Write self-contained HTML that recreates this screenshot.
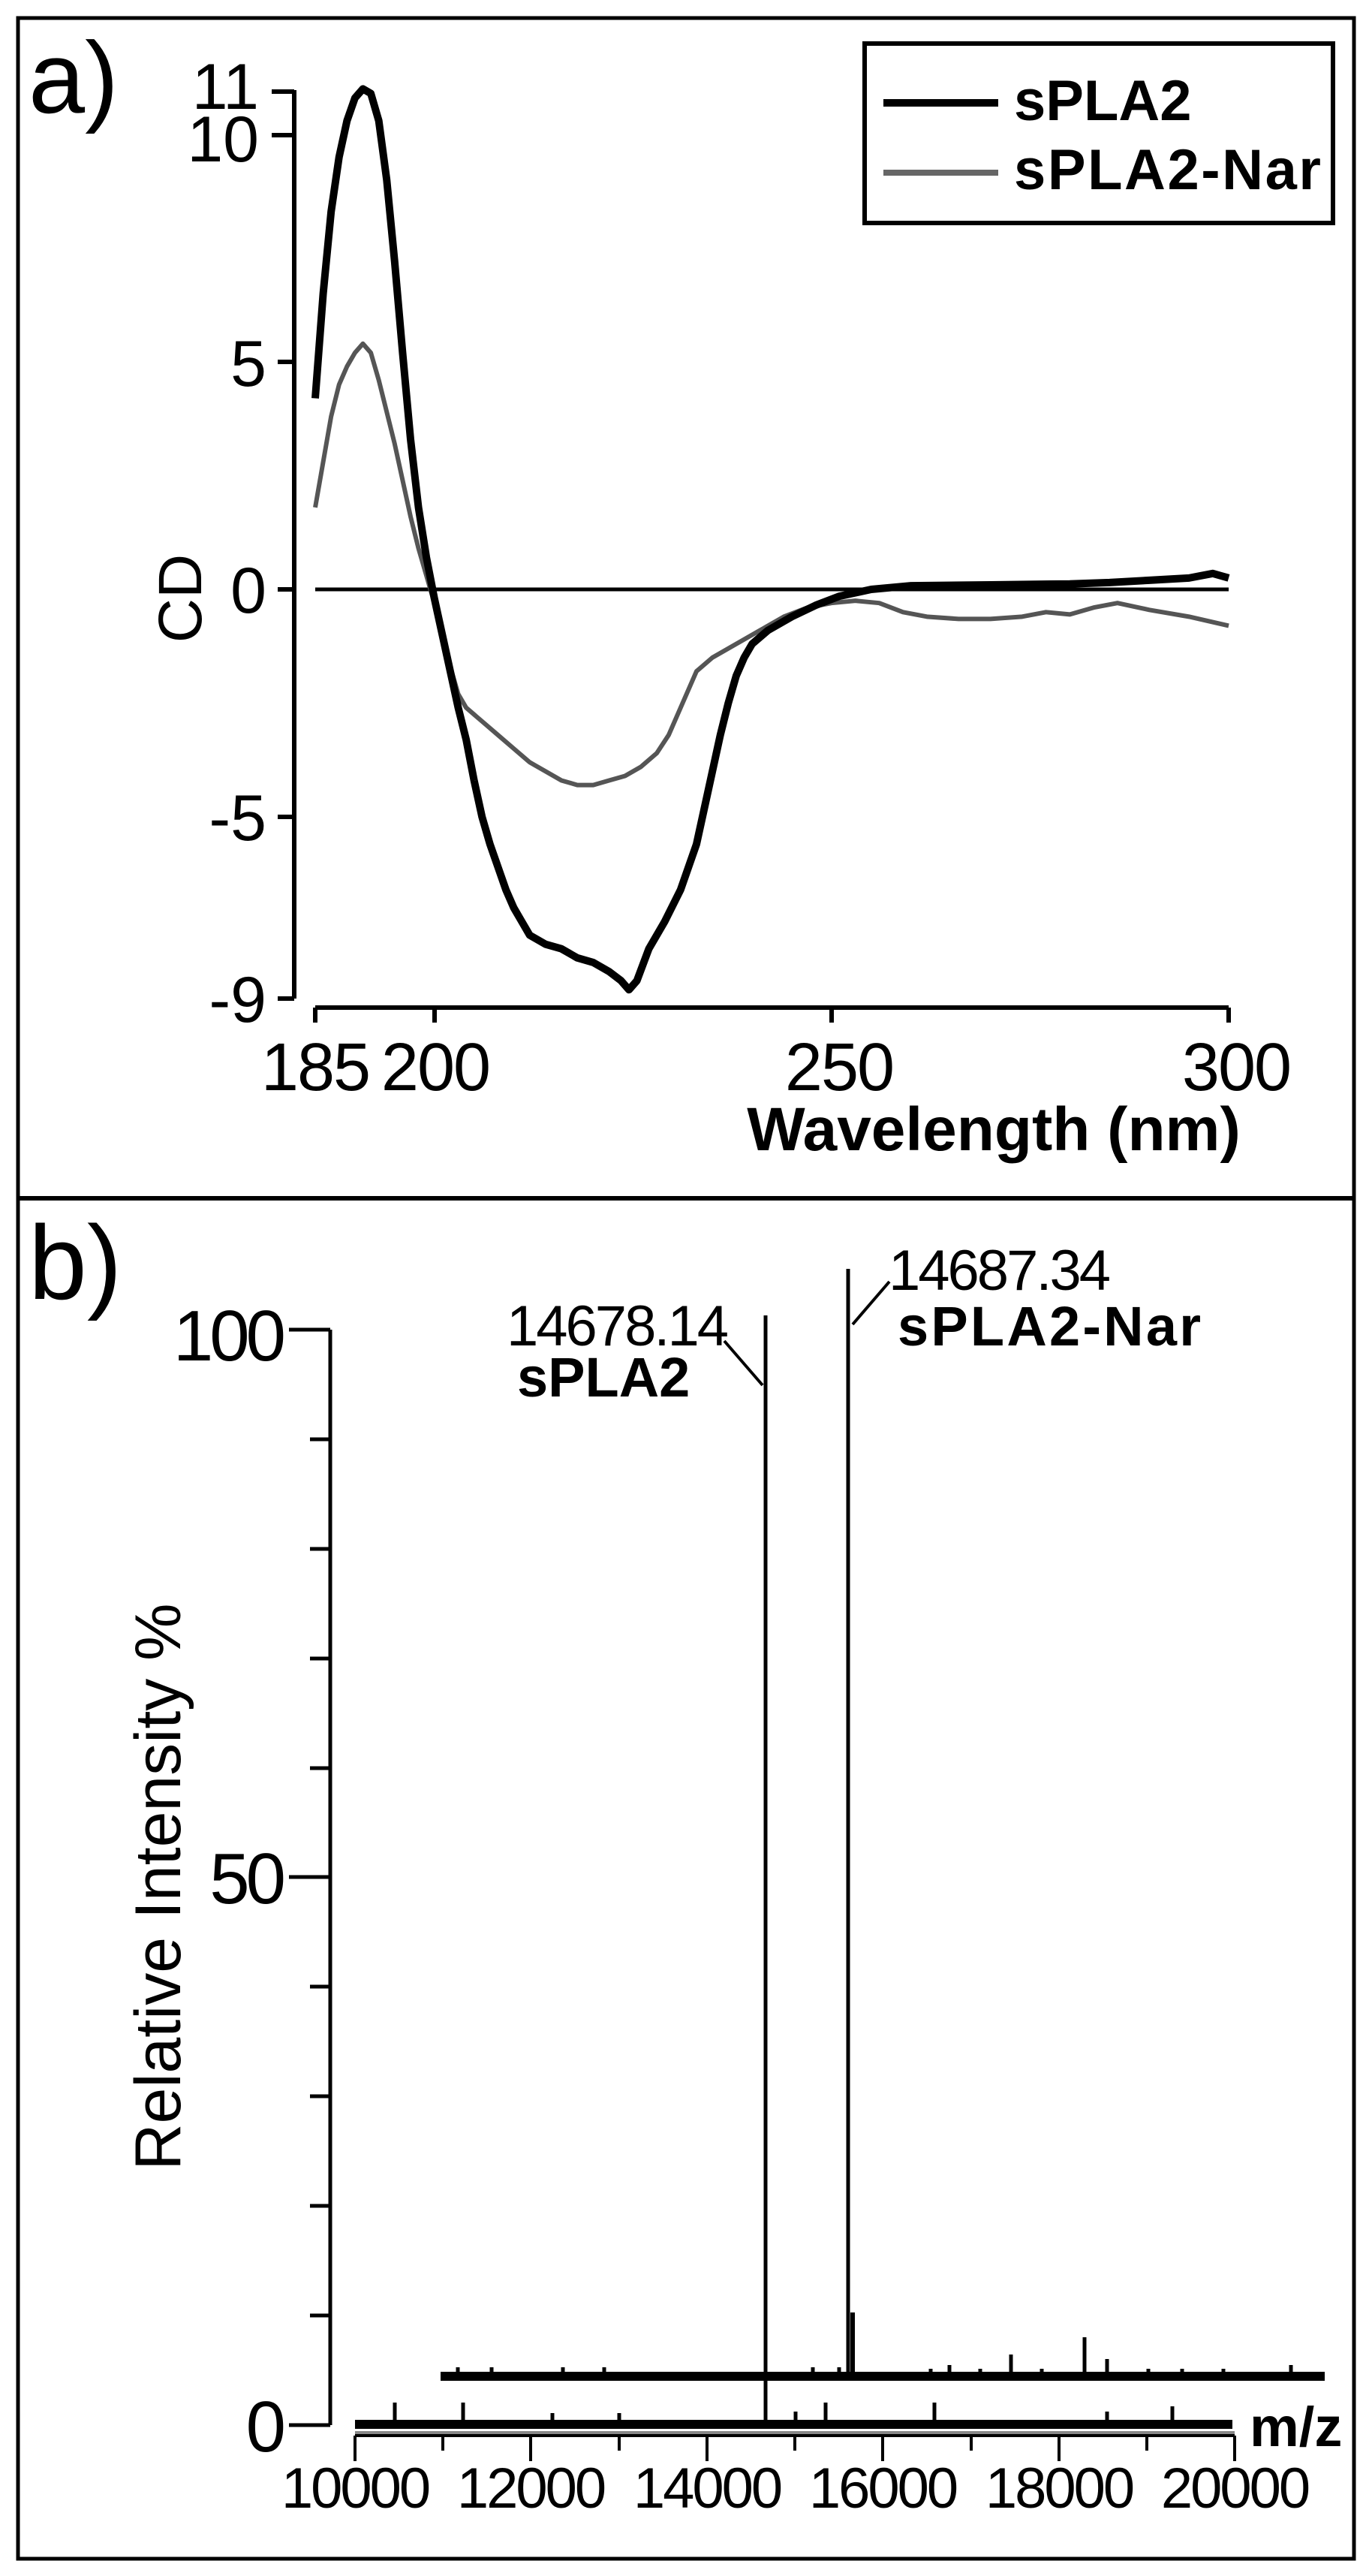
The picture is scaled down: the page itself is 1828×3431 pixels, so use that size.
<!DOCTYPE html>
<html><head><meta charset="utf-8"><style>html,body{margin:0;padding:0;background:#fff}svg{display:block}</style></head>
<body>
<svg width="1828" height="3431" viewBox="0 0 1828 3431" xmlns="http://www.w3.org/2000/svg" font-family="Liberation Sans, sans-serif">
<rect x="0" y="0" width="1828" height="3431" fill="#fff"/>
<rect x="24" y="24" width="1780" height="3384" fill="none" stroke="#000" stroke-width="5"/>
<line x1="24" y1="1596" x2="1804" y2="1596" stroke="#000" stroke-width="6"/>

<!-- ===== Panel a ===== -->
<text x="38" y="150" font-size="135">a)</text>
<line x1="392" y1="120" x2="392" y2="1330" stroke="#000" stroke-width="6"/>
<g stroke="#000" stroke-width="6">
<line x1="362" y1="122" x2="392" y2="122"/>
<line x1="362" y1="180" x2="392" y2="180"/>
<line x1="370" y1="482" x2="392" y2="482"/>
<line x1="370" y1="785" x2="392" y2="785"/>
<line x1="370" y1="1088" x2="392" y2="1088"/>
<line x1="370" y1="1330" x2="392" y2="1330"/>
</g>
<g font-size="86" text-anchor="end">
<text x="345" y="145">11</text>
<text x="345" y="215">10</text>
<text x="355" y="514">5</text>
<text x="355" y="816">0</text>
<text x="355" y="1119">-5</text>
<text x="355" y="1361">-9</text>
</g>
<text transform="translate(268,797) rotate(-90)" font-size="82" text-anchor="middle">CD</text>
<g stroke="#000" stroke-width="6">
<line x1="420" y1="1342" x2="1637" y2="1342"/>
<line x1="420" y1="1342" x2="420" y2="1362"/>
<line x1="579" y1="1342" x2="579" y2="1362"/>
<line x1="1108" y1="1342" x2="1108" y2="1362"/>
<line x1="1637" y1="1342" x2="1637" y2="1362"/>
</g>
<g font-size="90" text-anchor="middle" letter-spacing="-2">
<text x="420" y="1452">185</text>
<text x="580" y="1452">200</text>
<text x="1118" y="1452">250</text>
<text x="1647" y="1452">300</text>
</g>
<text x="1324" y="1532" font-size="82" font-weight="bold" text-anchor="middle">Wavelength (nm)</text>
<line x1="420" y1="785" x2="1637" y2="785" stroke="#000" stroke-width="5"/>
<g transform="translate(420,785) scale(10.583,-60.6) translate(-185,0)" fill="none" stroke-linejoin="round">
<polyline vector-effect="non-scaling-stroke" stroke="#555" stroke-width="6" points="185,1.8 186,2.8 187,3.8 188,4.5 189,4.9 190,5.2 191,5.4 192,5.2 193,4.6 194,3.9 195,3.2 196,2.4 197,1.6 198,0.9 199,0.3 200,-0.3 201,-1 202,-1.7 203,-2.3 204,-2.6 206,-2.9 208,-3.2 210,-3.5 212,-3.8 214,-4 216,-4.2 218,-4.3 220,-4.3 222,-4.2 224,-4.1 226,-3.9 228,-3.6 229.5,-3.2 231,-2.6 232,-2.2 233,-1.8 235,-1.5 237,-1.3 239,-1.1 241,-0.9 244,-0.6 247,-0.4 250,-0.3 253,-0.25 256,-0.3 259,-0.5 262,-0.6 266,-0.65 270,-0.65 274,-0.6 277,-0.5 280,-0.55 283,-0.4 286,-0.3 290,-0.45 295,-0.6 300,-0.8"/>
<polyline vector-effect="non-scaling-stroke" stroke="#000" stroke-width="10" points="185,4.2 186,6.5 187,8.3 188,9.5 189,10.3 190,10.8 191,11 192,10.9 193,10.3 194,9 195,7.2 196,5.2 197,3.3 198,1.8 199,0.7 200,-0.2 201,-1 202,-1.8 203,-2.6 204,-3.3 205,-4.2 206,-5 207,-5.6 208,-6.1 209,-6.6 210,-7 211,-7.3 212,-7.6 214,-7.8 216,-7.9 218,-8.1 220,-8.2 222,-8.4 223.5,-8.6 224.5,-8.8 225.5,-8.6 227,-7.9 229,-7.3 231,-6.6 233,-5.6 234,-4.8 235,-4 236,-3.2 237,-2.5 238,-1.9 239,-1.5 240,-1.2 242,-0.9 245,-0.6 248,-0.35 251,-0.15 255,0 260,0.08 270,0.1 280,0.12 285,0.15 290,0.2 295,0.25 298,0.35 300,0.25"/>
</g>
<rect x="1152" y="58" width="624" height="239" fill="#fff" stroke="#000" stroke-width="6"/>
<line x1="1177" y1="137" x2="1330" y2="137" stroke="#000" stroke-width="10"/>
<line x1="1177" y1="230" x2="1330" y2="230" stroke="#666" stroke-width="8"/>
<g font-size="76" font-weight="bold">
<text x="1351" y="160">sPLA2</text>
<text x="1351" y="252" textLength="409">sPLA2-Nar</text>
</g>

<!-- ===== Panel b ===== -->
<text x="38" y="1730" font-size="140">b)</text>
<line x1="440" y1="1771" x2="440" y2="3230" stroke="#000" stroke-width="5"/>
<g stroke="#000" stroke-width="5">
<line x1="385" y1="1771" x2="440" y2="1771"/>
<line x1="385" y1="2500" x2="440" y2="2500"/>
<line x1="385" y1="3230" x2="440" y2="3230"/>
<line x1="413" y1="1917" x2="440" y2="1917"/>
<line x1="413" y1="2063" x2="440" y2="2063"/>
<line x1="413" y1="2209" x2="440" y2="2209"/>
<line x1="413" y1="2355" x2="440" y2="2355"/>
<line x1="413" y1="2646" x2="440" y2="2646"/>
<line x1="413" y1="2792" x2="440" y2="2792"/>
<line x1="413" y1="2938" x2="440" y2="2938"/>
<line x1="413" y1="3084" x2="440" y2="3084"/>
</g>
<g font-size="96" text-anchor="end" letter-spacing="-5">
<text x="376" y="1812">100</text>
<text x="376" y="2535">50</text>
<text x="376" y="3265">0</text>
</g>
<text transform="translate(240,2513) rotate(-90)" font-size="86" text-anchor="middle">Relative Intensity %</text>

<rect x="473" y="3223" width="1169" height="12" fill="#000"/>
<line x1="473" y1="3240" x2="1645" y2="3240" stroke="#888" stroke-width="4"/>
<line x1="473" y1="3244" x2="1645" y2="3244" stroke="#000" stroke-width="4"/>
<g stroke="#000" stroke-width="5">
<line x1="1020" y1="3230" x2="1020" y2="1752"/>
<line x1="526" y1="3230" x2="526" y2="3200"/>
<line x1="617" y1="3230" x2="617" y2="3200"/>
<line x1="736" y1="3230" x2="736" y2="3214"/>
<line x1="825" y1="3230" x2="825" y2="3214"/>
<line x1="1060" y1="3230" x2="1060" y2="3212"/>
<line x1="1100" y1="3230" x2="1100" y2="3200"/>
<line x1="1245" y1="3230" x2="1245" y2="3200"/>
<line x1="1475" y1="3230" x2="1475" y2="3212"/>
<line x1="1562" y1="3230" x2="1562" y2="3205"/>
</g>
<g stroke="#000" stroke-width="4">
<line x1="473" y1="3244" x2="473" y2="3278"/>
<line x1="707" y1="3244" x2="707" y2="3278"/>
<line x1="942" y1="3244" x2="942" y2="3278"/>
<line x1="1176" y1="3244" x2="1176" y2="3278"/>
<line x1="1411" y1="3244" x2="1411" y2="3278"/>
<line x1="1645" y1="3244" x2="1645" y2="3278"/>
<line x1="590" y1="3244" x2="590" y2="3264"/>
<line x1="825" y1="3244" x2="825" y2="3264"/>
<line x1="1059" y1="3244" x2="1059" y2="3264"/>
<line x1="1294" y1="3244" x2="1294" y2="3264"/>
<line x1="1528" y1="3244" x2="1528" y2="3264"/>
</g>
<g font-size="76" text-anchor="middle" letter-spacing="-3">
<text x="473" y="3340">10000</text>
<text x="707" y="3340">12000</text>
<text x="942" y="3340">14000</text>
<text x="1176" y="3340">16000</text>
<text x="1411" y="3340">18000</text>
<text x="1645" y="3340">20000</text>
</g>
<text x="1665" y="3258" font-size="74" font-weight="bold">m/z</text>

<rect x="587" y="3159" width="1178" height="12" fill="#000"/>
<g stroke="#000" stroke-width="5">
<line x1="1130" y1="3165" x2="1130" y2="1690"/>
<line x1="1136" y1="3165" x2="1136" y2="3080" stroke-width="6"/>
<line x1="1445" y1="3165" x2="1445" y2="3113"/>
<line x1="1347" y1="3165" x2="1347" y2="3136"/>
<line x1="1265" y1="3165" x2="1265" y2="3150"/>
<line x1="1475" y1="3165" x2="1475" y2="3142"/>
<line x1="610" y1="3165" x2="610" y2="3153"/>
<line x1="655" y1="3165" x2="655" y2="3153"/>
<line x1="750" y1="3165" x2="750" y2="3153"/>
<line x1="805" y1="3165" x2="805" y2="3153"/>
<line x1="1083" y1="3165" x2="1083" y2="3153"/>
<line x1="1118" y1="3165" x2="1118" y2="3153"/>
<line x1="1240" y1="3165" x2="1240" y2="3155"/>
<line x1="1306" y1="3165" x2="1306" y2="3155"/>
<line x1="1388" y1="3165" x2="1388" y2="3155"/>
<line x1="1530" y1="3165" x2="1530" y2="3155"/>
<line x1="1575" y1="3165" x2="1575" y2="3155"/>
<line x1="1630" y1="3165" x2="1630" y2="3155"/>
<line x1="1720" y1="3165" x2="1720" y2="3150"/>
</g>

<line x1="965" y1="1786" x2="1016" y2="1845" stroke="#000" stroke-width="4"/>
<text x="968" y="1792" font-size="76" text-anchor="end" letter-spacing="-3">14678.14</text>
<text x="689" y="1860" font-size="74" font-weight="bold">sPLA2</text>
<line x1="1136" y1="1764" x2="1185" y2="1707" stroke="#000" stroke-width="4"/>
<text x="1184" y="1718" font-size="76" letter-spacing="-3">14687.34</text>
<text x="1196" y="1792" font-size="74" font-weight="bold" textLength="404">sPLA2-Nar</text>
</svg>
</body></html>
